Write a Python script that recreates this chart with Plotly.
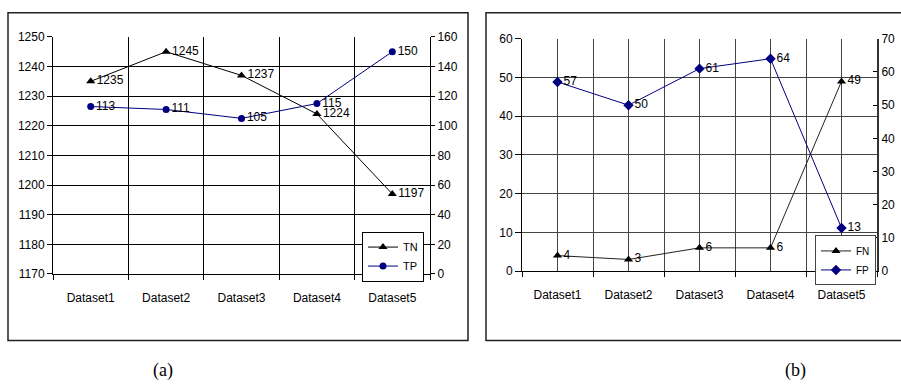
import plotly.graph_objects as go

categories = ["Dataset1", "Dataset2", "Dataset3", "Dataset4", "Dataset5"]
tn_values = [1235, 1245, 1237, 1224, 1197]
tp_values = [113, 111, 105, 115, 150]
fn_values = [4, 3, 6, 6, 49]
fp_values = [57, 50, 61, 64, 13]

W, H = 901, 387
def px(x):
    return x / W
def py(y):
    return 1 - y / H

xs = list(range(len(categories)))
bounds = [i - 0.5 for i in range(len(categories) + 1)]

FONT = "Liberation Sans, Arial, sans-serif"
NAVY = "#000080"

fig = go.Figure()

# ---- chart (a)
fig.add_trace(go.Scatter(x=xs, y=tn_values, name="TN", mode="lines+markers+text",
                         text=[str(v) for v in tn_values], textposition="middle right",
                         textfont=dict(family=FONT, size=12, color="black"),
                         line=dict(color="black", width=1),
                         marker=dict(symbol="triangle-up", size=8, color="black"),
                         xaxis="x", yaxis="y", legend="legend"))
fig.add_trace(go.Scatter(x=xs, y=tp_values, name="TP", mode="lines+markers+text",
                         text=[str(v) for v in tp_values], textposition="middle right",
                         textfont=dict(family=FONT, size=12, color="black"),
                         line=dict(color=NAVY, width=1),
                         marker=dict(symbol="circle", size=7, color=NAVY),
                         xaxis="x", yaxis="y2", legend="legend"))

# ---- chart (b)
fig.add_trace(go.Scatter(x=xs, y=fn_values, name="FN", mode="lines+markers+text",
                         text=[str(v) for v in fn_values], textposition="middle right",
                         textfont=dict(family=FONT, size=12, color="black"),
                         line=dict(color="#222222", width=1),
                         marker=dict(symbol="triangle-up", size=8, color="black"),
                         xaxis="x2", yaxis="y3", legend="legend2"))
fig.add_trace(go.Scatter(x=xs, y=fp_values, name="FP", mode="lines+markers+text",
                         text=[str(v) for v in fp_values], textposition="middle right",
                         textfont=dict(family=FONT, size=12, color="black"),
                         line=dict(color=NAVY, width=1),
                         marker=dict(symbol="diamond", size=8, color=NAVY),
                         xaxis="x2", yaxis="y4", legend="legend2"))

tickfont = dict(family=FONT, size=12, color="black")

def xaxis_cfg(domain, anchor, center_grid, gridcolor):
    return dict(domain=domain, anchor=anchor, range=[-0.5, len(categories) - 0.5],
                tickmode="array", tickvals=xs, ticktext=categories,
                ticks="", showgrid=center_grid, gridcolor=gridcolor, gridwidth=1,
                zeroline=False, showline=True, linecolor="black", linewidth=1,
                tickfont=tickfont, ticklabelstandoff=13, fixedrange=True,
                minor=dict(tickmode="array", tickvals=bounds, ticks="outside",
                           ticklen=5, tickcolor="black", showgrid=True,
                           gridcolor=gridcolor, gridwidth=1))

xa_dom = [px(53), px(430)]
ya_dom = [py(277), py(31)]
xb_dom = [px(522), px(877)]
yb_dom = [py(274), py(33)]

fig.update_layout(
    width=W, height=H,
    margin=dict(l=0, r=0, t=0, b=0),
    paper_bgcolor="white", plot_bgcolor="white",
    font=dict(family=FONT, size=12, color="black"),
    xaxis=xaxis_cfg(xa_dom, "y", False, "black"),
    yaxis=dict(domain=ya_dom, anchor="x", range=[1170, 1250], dtick=10, tick0=1170,
               ticks="outside", ticklen=5, tickcolor="black", showgrid=True,
               gridcolor="black", gridwidth=1, showline=True, linecolor="black",
               zeroline=False, tickfont=tickfont, fixedrange=True),
    yaxis2=dict(domain=ya_dom, anchor="x", overlaying="y", side="right",
                range=[0, 160], dtick=20, tick0=0, ticks="outside", ticklen=4,
                tickcolor="black", showgrid=False, showline=True, linecolor="black",
                zeroline=False, tickfont=tickfont, fixedrange=True),
    xaxis2=xaxis_cfg(xb_dom, "y3", True, "#444444"),
    yaxis3=dict(domain=yb_dom, anchor="x2", range=[0, 60], dtick=10, tick0=0,
                ticks="outside", ticklen=6, tickcolor="black", showgrid=True,
                gridcolor="#444444", gridwidth=1, showline=True, linecolor="black",
                zeroline=False, tickfont=tickfont, fixedrange=True),
    yaxis4=dict(domain=yb_dom, anchor="x2", overlaying="y3", side="right",
                range=[0, 70], dtick=10, tick0=0, ticks="inside", ticklen=4,
                tickcolor="black", showgrid=False, showline=True, linecolor="#333333",
                linewidth=2, zeroline=False, tickfont=tickfont, fixedrange=True),
    legend=dict(x=px(424), xanchor="right", y=py(233), yanchor="top",
                bgcolor="white", bordercolor="black", borderwidth=1,
                font=dict(family=FONT, size=11, color="black"),
                itemwidth=30, tracegroupgap=0),
    legend2=dict(x=px(876), xanchor="right", y=py(237), yanchor="top",
                 bgcolor="white", bordercolor="#444444", borderwidth=1,
                 font=dict(family=FONT, size=10, color="black"),
                 itemwidth=30, tracegroupgap=0),
    shapes=[
        dict(type="rect", xref="paper", yref="paper", x0=px(8), x1=px(468),
             y0=py(346), y1=py(6), line=dict(color="#222222", width=1.5)),
        dict(type="rect", xref="paper", yref="paper", x0=px(486), x1=1.02,
             y0=py(346), y1=py(6), line=dict(color="#222222", width=1.5)),
    ],
    annotations=[
        dict(text="(a)", xref="paper", yref="paper", x=px(163), y=py(377),
             xanchor="center", yanchor="middle", showarrow=False,
             font=dict(family="Liberation Serif, Times New Roman, serif", size=18, color="black")),
        dict(text="(b)", xref="paper", yref="paper", x=px(795), y=py(377),
             xanchor="center", yanchor="middle", showarrow=False,
             font=dict(family="Liberation Serif, Times New Roman, serif", size=18, color="black")),
    ],
    showlegend=True,
)

fig.write_html("out.html", config={"displayModeBar": False},
               post_script="document.body.style.margin='0px';document.body.style.overflow='hidden';")
